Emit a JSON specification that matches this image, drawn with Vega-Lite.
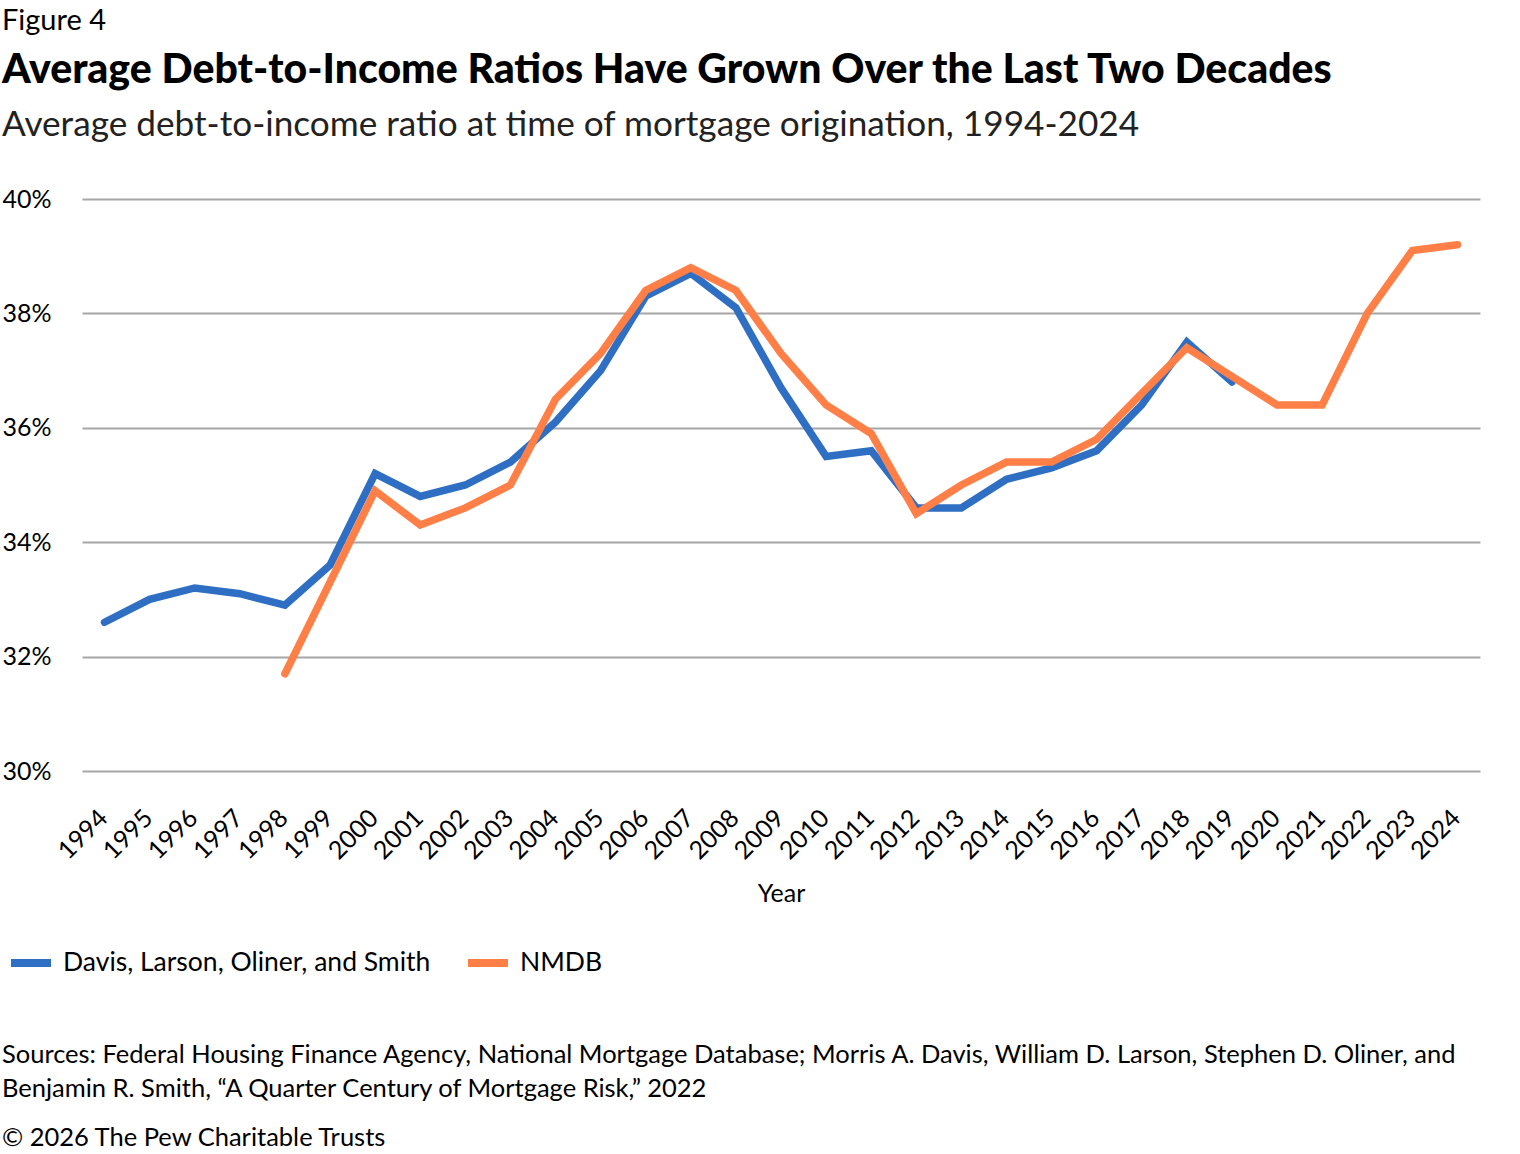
{
  "$schema": "https://vega.github.io/schema/vega-lite/v6.json",
  "background": "white",
  "padding": {"left": 1, "top": 6, "right": 10, "bottom": 5},
  "config": {
    "font": "Lato",
    "view": {"stroke": null},
    "concat": {"spacing": 0}
  },
  "title": {
    "text": "Figure 4",
    "anchor": "start",
    "frame": "bounds",
    "font": "Lato",
    "fontSize": 29,
    "fontWeight": "normal",
    "color": "#000000",
    "offset": 14
  },
  "resolve": {"scale": {"color": "independent"}},
  "vconcat": [
    {
      "title": {
        "text": [
          "Sources: Federal Housing Finance Agency, National Mortgage Database; Morris A. Davis, William D. Larson, Stephen D. Oliner, and",
          "Benjamin R. Smith, \u201cA Quarter Century of Mortgage Risk,\u201d 2022"
        ],
        "subtitle": "\u00a9 2026 The Pew Charitable Trusts",
        "orient": "bottom",
        "anchor": "start",
        "frame": "bounds",
        "font": "Lato",
        "fontSize": 25.5,
        "fontWeight": "normal",
        "lineHeight": 34,
        "color": "#000000",
        "subtitleFont": "Lato",
        "subtitleFontSize": 25.5,
        "subtitleColor": "#000000",
        "subtitlePadding": 23,
        "offset": 64
      },
      "resolve": {"scale": {"color": "independent"}},
      "vconcat": [
        {
          "width": 1398,
          "height": 572,
          "title": {
            "text": "Average Debt-to-Income Ratios Have Grown Over the Last Two Decades",
            "subtitle": "Average debt-to-income ratio at time of mortgage origination, 1994-2024",
            "anchor": "start",
            "frame": "bounds",
            "font": "Lato",
            "fontSize": 41,
            "fontWeight": 900,
            "color": "#000000",
            "subtitleFont": "Lato",
            "subtitleFontSize": 35.2,
            "subtitleFontWeight": "normal",
            "subtitleColor": "#222222",
            "subtitlePadding": 16,
            "offset": 43
          },
          "data": {
            "values": [
              {"year": "1994", "series": "Davis, Larson, Oliner, and Smith", "dti": 32.6},
              {"year": "1995", "series": "Davis, Larson, Oliner, and Smith", "dti": 33.0},
              {"year": "1996", "series": "Davis, Larson, Oliner, and Smith", "dti": 33.2},
              {"year": "1997", "series": "Davis, Larson, Oliner, and Smith", "dti": 33.1},
              {"year": "1998", "series": "Davis, Larson, Oliner, and Smith", "dti": 32.9},
              {"year": "1999", "series": "Davis, Larson, Oliner, and Smith", "dti": 33.6},
              {"year": "2000", "series": "Davis, Larson, Oliner, and Smith", "dti": 35.2},
              {"year": "2001", "series": "Davis, Larson, Oliner, and Smith", "dti": 34.8},
              {"year": "2002", "series": "Davis, Larson, Oliner, and Smith", "dti": 35.0},
              {"year": "2003", "series": "Davis, Larson, Oliner, and Smith", "dti": 35.4},
              {"year": "2004", "series": "Davis, Larson, Oliner, and Smith", "dti": 36.1},
              {"year": "2005", "series": "Davis, Larson, Oliner, and Smith", "dti": 37.0},
              {"year": "2006", "series": "Davis, Larson, Oliner, and Smith", "dti": 38.3},
              {"year": "2007", "series": "Davis, Larson, Oliner, and Smith", "dti": 38.7},
              {"year": "2008", "series": "Davis, Larson, Oliner, and Smith", "dti": 38.1},
              {"year": "2009", "series": "Davis, Larson, Oliner, and Smith", "dti": 36.7},
              {"year": "2010", "series": "Davis, Larson, Oliner, and Smith", "dti": 35.5},
              {"year": "2011", "series": "Davis, Larson, Oliner, and Smith", "dti": 35.6},
              {"year": "2012", "series": "Davis, Larson, Oliner, and Smith", "dti": 34.6},
              {"year": "2013", "series": "Davis, Larson, Oliner, and Smith", "dti": 34.6},
              {"year": "2014", "series": "Davis, Larson, Oliner, and Smith", "dti": 35.1},
              {"year": "2015", "series": "Davis, Larson, Oliner, and Smith", "dti": 35.3},
              {"year": "2016", "series": "Davis, Larson, Oliner, and Smith", "dti": 35.6},
              {"year": "2017", "series": "Davis, Larson, Oliner, and Smith", "dti": 36.4},
              {"year": "2018", "series": "Davis, Larson, Oliner, and Smith", "dti": 37.5},
              {"year": "2019", "series": "Davis, Larson, Oliner, and Smith", "dti": 36.8},
              {"year": "1998", "series": "NMDB", "dti": 31.7},
              {"year": "1999", "series": "NMDB", "dti": 33.3},
              {"year": "2000", "series": "NMDB", "dti": 34.9},
              {"year": "2001", "series": "NMDB", "dti": 34.3},
              {"year": "2002", "series": "NMDB", "dti": 34.6},
              {"year": "2003", "series": "NMDB", "dti": 35.0},
              {"year": "2004", "series": "NMDB", "dti": 36.5},
              {"year": "2005", "series": "NMDB", "dti": 37.3},
              {"year": "2006", "series": "NMDB", "dti": 38.4},
              {"year": "2007", "series": "NMDB", "dti": 38.8},
              {"year": "2008", "series": "NMDB", "dti": 38.4},
              {"year": "2009", "series": "NMDB", "dti": 37.3},
              {"year": "2010", "series": "NMDB", "dti": 36.4},
              {"year": "2011", "series": "NMDB", "dti": 35.9},
              {"year": "2012", "series": "NMDB", "dti": 34.5},
              {"year": "2013", "series": "NMDB", "dti": 35.0},
              {"year": "2014", "series": "NMDB", "dti": 35.4},
              {"year": "2015", "series": "NMDB", "dti": 35.4},
              {"year": "2016", "series": "NMDB", "dti": 35.8},
              {"year": "2017", "series": "NMDB", "dti": 36.6},
              {"year": "2018", "series": "NMDB", "dti": 37.4},
              {"year": "2019", "series": "NMDB", "dti": 36.9},
              {"year": "2020", "series": "NMDB", "dti": 36.4},
              {"year": "2021", "series": "NMDB", "dti": 36.4},
              {"year": "2022", "series": "NMDB", "dti": 38.0},
              {"year": "2023", "series": "NMDB", "dti": 39.1},
              {"year": "2024", "series": "NMDB", "dti": 39.2}
            ]
          },
          "mark": {"type": "line", "strokeWidth": 7.5, "strokeCap": "round", "strokeJoin": "miter"},
          "encoding": {
            "x": {
              "field": "year",
              "type": "ordinal",
              "scale": {"type": "point", "padding": 0.5},
              "axis": {
                "title": "Year",
                "titleFont": "Lato",
                "titleFontSize": 25,
                "titleFontWeight": "normal",
                "titleColor": "#000000",
                "titlePadding": 18,
                "labelAngle": -45,
                "labelFont": "Lato",
                "labelFontSize": 25,
                "labelColor": "#000000",
                "labelPadding": 34,
                "labelOffset": -10,
                "ticks": false,
                "domain": false,
                "grid": false
              }
            },
            "y": {
              "field": "dti",
              "type": "quantitative",
              "scale": {"domain": [30, 40], "zero": false, "nice": false},
              "axis": {
                "title": null,
                "values": [30, 32, 34, 36, 38, 40],
                "labelExpr": "datum.value + '%'",
                "labelFont": "Lato",
                "labelFontSize": 25,
                "labelColor": "#000000",
                "labelPadding": 31,
                "ticks": false,
                "domain": false,
                "grid": true,
                "gridColor": "#A6A6A6",
                "gridWidth": 2
              }
            },
            "color": {
              "field": "series",
              "type": "nominal",
              "scale": {"domain": ["Davis, Larson, Oliner, and Smith", "NMDB"], "range": ["#2E6FC4", "#FF7F47"]},
              "legend": {
                "title": null,
                "orient": "none",
                "legendX": -75,
                "legendY": 740,
                "direction": "horizontal",
                "symbolType": "stroke",
                "symbolStrokeWidth": 8,
                "symbolSize": 1600,
                "labelFont": "Lato",
                "labelFontSize": 26.5,
                "labelColor": "#000000",
                "labelLimit": 600,
                "labelOffset": 8,
                "columnPadding": 21
              }
            }
          }
        }
      ]
    }
  ]
}
